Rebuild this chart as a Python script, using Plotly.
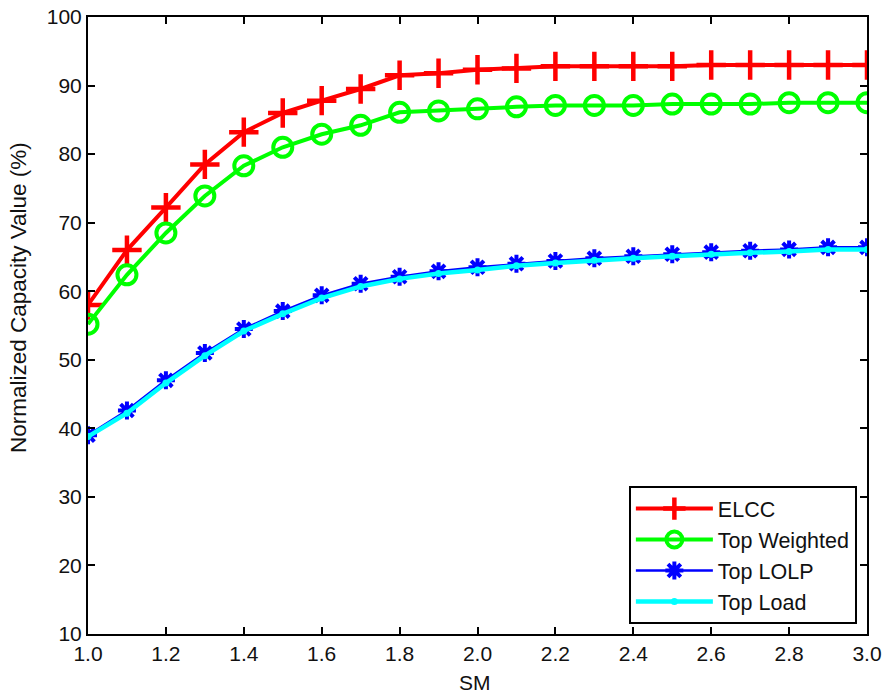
import plotly.graph_objects as go

sm = [1.0, 1.1, 1.2, 1.3, 1.4, 1.5, 1.6, 1.7, 1.8, 1.9, 2.0,
      2.1, 2.2, 2.3, 2.4, 2.5, 2.6, 2.7, 2.8, 2.9, 3.0]
elcc = [58.0, 66.0, 72.2, 78.5, 83.2, 86.0, 87.8, 89.5, 91.5, 91.8, 92.3,
        92.5, 92.8, 92.8, 92.8, 92.8, 93.0, 93.0, 93.0, 93.0, 93.0]
top_weighted = [55.2, 62.4, 68.5, 73.9, 78.3, 81.0, 82.9, 84.2, 86.1, 86.3, 86.6,
                86.9, 87.1, 87.1, 87.1, 87.3, 87.3, 87.3, 87.5, 87.5, 87.5]
top_lolp = [39.0, 42.6, 47.0, 51.0, 54.5, 57.1, 59.4, 61.1, 62.1, 62.9, 63.5,
            64.0, 64.4, 64.8, 65.1, 65.4, 65.7, 65.9, 66.1, 66.4, 66.4]
top_load = [38.8, 42.2, 46.6, 50.6, 54.2, 56.7, 59.0, 60.7, 61.8, 62.6, 63.1,
            63.7, 64.1, 64.5, 64.8, 65.1, 65.4, 65.6, 65.8, 66.1, 66.1]

FONT = "Liberation Sans, Arial"
TXT = "#111"

fig = go.Figure()
fig.add_trace(go.Scatter(x=sm, y=elcc, name="ELCC", mode="lines+markers",
                         line=dict(color="#ff0000", width=4),
                         marker=dict(symbol="cross-thin", size=21, line=dict(color="#ff0000", width=4.5))))
fig.add_trace(go.Scatter(x=sm, y=top_weighted, name="Top Weighted", mode="lines+markers",
                         line=dict(color="#00ff00", width=4),
                         marker=dict(symbol="circle-open", size=19, line=dict(color="#00ff00", width=4))))
fig.add_trace(go.Scatter(x=sm, y=top_lolp, name="Top LOLP", mode="lines+markers",
                         line=dict(color="#0000ff", width=2.5),
                         marker=dict(symbol="asterisk-open", size=15, line=dict(color="#0000ff", width=4))))
fig.add_trace(go.Scatter(x=sm, y=top_load, name="Top Load", mode="lines+markers",
                         line=dict(color="#00ffff", width=4.5),
                         marker=dict(symbol="circle", size=7, color="#00ffff")))

axis_common = dict(showline=True, linecolor="black", linewidth=2, mirror="ticks",
                   ticks="inside", ticklen=7, tickwidth=1.5, tickcolor="black",
                   showgrid=False, zeroline=False, automargin=False,
                   tickfont=dict(family=FONT, size=21, color=TXT))
fig.update_xaxes(range=[1.0, 3.0], dtick=0.2, tick0=1.0, tickformat=".1f", **axis_common)
fig.update_yaxes(range=[10, 100], dtick=10, **axis_common)

fig.add_annotation(text="SM", xref="paper", yref="paper", x=0.497, y=-0.078,
                   xanchor="center", yanchor="middle", showarrow=False,
                   font=dict(family=FONT, size=21, color=TXT))
fig.add_annotation(text="Normalized Capacity Value (%)", xref="paper", yref="paper",
                   x=-0.0899, y=0.546, textangle=-90,
                   xanchor="center", yanchor="middle", showarrow=False,
                   font=dict(family=FONT, size=22.5, color=TXT))

fig.update_layout(
    width=886, height=696,
    margin=dict(l=88, r=19, t=17, b=62),
    paper_bgcolor="white", plot_bgcolor="white",
    font=dict(family=FONT, color="black"),
    legend=dict(x=0.987, y=0.016, xanchor="right", yanchor="bottom",
                bordercolor="black", borderwidth=2, bgcolor="white",
                font=dict(size=21.5, color=TXT), itemwidth=77, tracegroupgap=0),
)
fig.write_html("out.html")
